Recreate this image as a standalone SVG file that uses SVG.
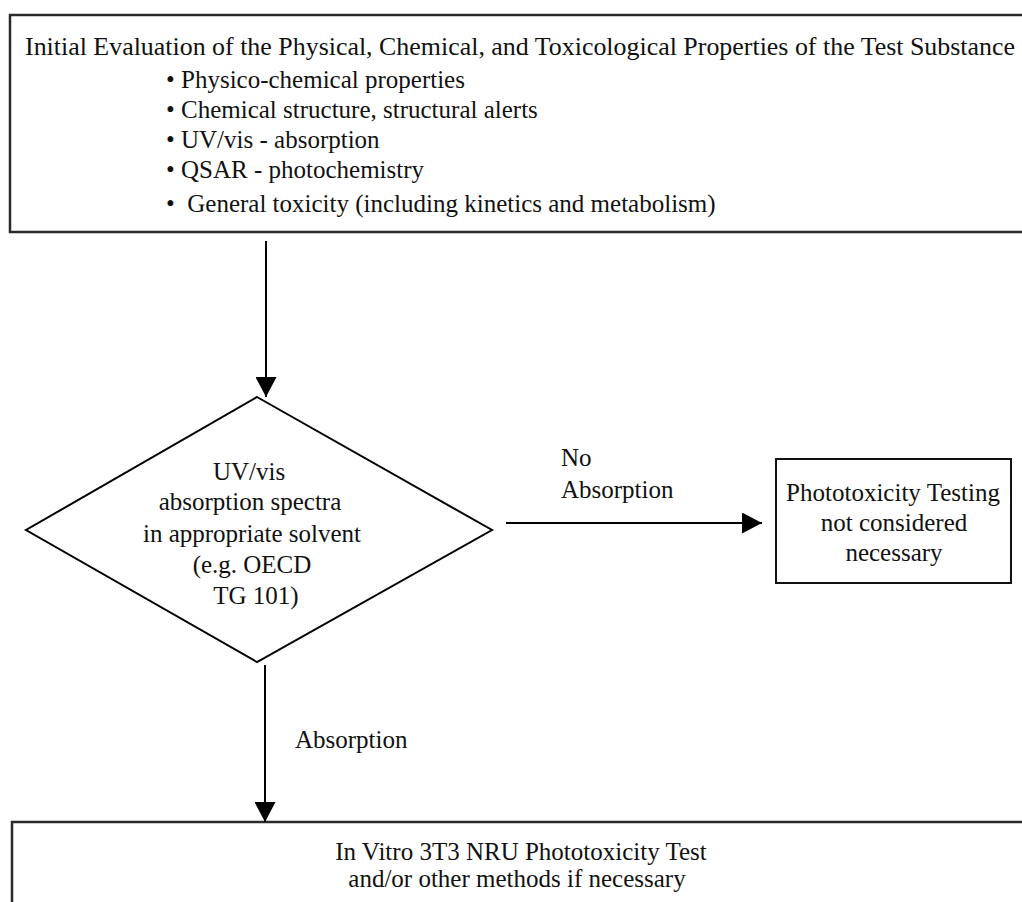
<svg xmlns="http://www.w3.org/2000/svg" width="1022" height="902" viewBox="0 0 1022 902">
<style>
  text { font-family: "Liberation Serif", "DejaVu Serif", serif; font-size: 25px; fill: #111; }
  .c { text-anchor: middle; }
  .box { fill: #fff; stroke: #2a2a2a; stroke-width: 2.5; }
  .sbox { fill: #fff; stroke: #111; stroke-width: 2; }
  .edge { stroke: #000; stroke-width: 2; fill: none; }
</style>
<defs>
  <marker id="arr" markerWidth="20" markerHeight="21" refX="20" refY="10.5" orient="auto" markerUnits="userSpaceOnUse" viewBox="0 0 20 21">
    <path d="M0,0 L20,10.5 L0,21 Z" fill="#000"/>
  </marker>
</defs>
<rect width="1022" height="902" fill="#fff"/>

<g id="initial-evaluation">
  <rect class="box" x="10" y="15" width="1030" height="217"/>
  <text x="25" y="55" textLength="990" lengthAdjust="spacingAndGlyphs">Initial Evaluation of the Physical, Chemical, and Toxicological Properties of the Test Substance</text>
  <text x="166" y="88">• Physico-chemical properties</text>
  <text x="166" y="118">• Chemical structure, structural alerts</text>
  <text x="166" y="148">• UV/vis - absorption</text>
  <text x="166" y="178">• QSAR - photochemistry</text>
  <text x="166" y="212" xml:space="preserve">•  General toxicity (including kinetics and metabolism)</text>
</g>

<g id="uvvis-decision">
  <polygon points="257,397 492,530 257,662 26,530" fill="#fff" stroke="#000" stroke-width="2"/>
  <text class="c" x="249" y="480">UV/vis</text>
  <text class="c" x="250" y="510">absorption spectra</text>
  <text class="c" x="252" y="542">in appropriate solvent</text>
  <text class="c" x="252" y="573">(e.g. OECD</text>
  <text class="c" x="256" y="604">TG 101)</text>
</g>

<g id="not-necessary">
  <rect class="sbox" x="776" y="459" width="235" height="124"/>
  <text class="c" x="893" y="501">Phototoxicity Testing</text>
  <text class="c" x="894" y="531">not considered</text>
  <text class="c" x="894" y="561">necessary</text>
</g>

<g id="in-vitro-test">
  <rect class="box" x="12" y="822" width="1030" height="100"/>
  <text class="c" x="521" y="860">In Vitro 3T3 NRU Phototoxicity Test</text>
  <text class="c" x="517" y="887">and/or other methods if necessary</text>
</g>

<g id="connectors">
  <line class="edge" x1="266" y1="241" x2="266" y2="397" marker-end="url(#arr)"/>
  <line class="edge" x1="506" y1="523" x2="762" y2="523" marker-end="url(#arr)"/>
  <text x="561" y="466">No</text>
  <text x="561" y="498">Absorption</text>
  <line class="edge" x1="265" y1="665" x2="265" y2="822" marker-end="url(#arr)"/>
  <text x="295" y="748">Absorption</text>
</g>
</svg>
